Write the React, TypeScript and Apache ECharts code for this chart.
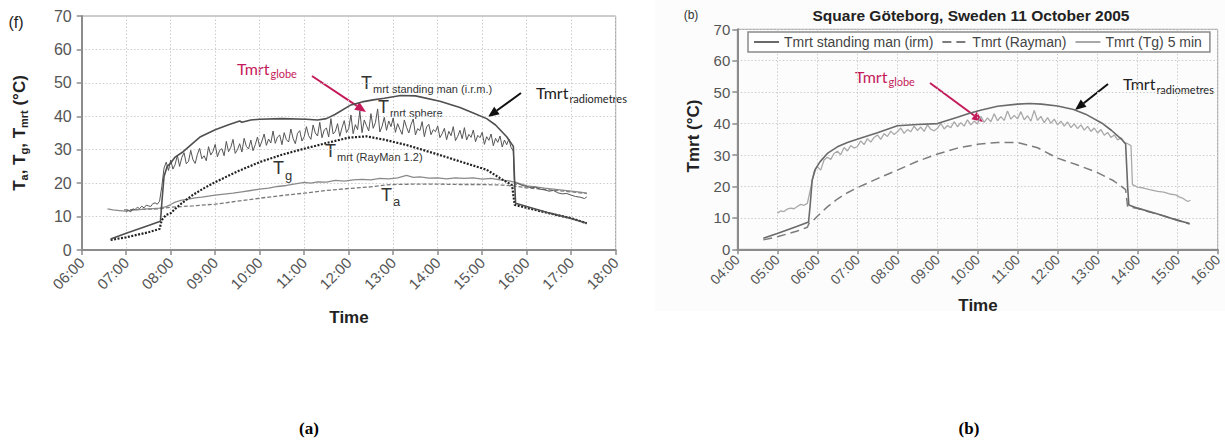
import React, { useEffect, useRef } from 'react';
import * as echarts from 'echarts';

// ---------------- DATA ----------------
// Panel (a): time in decimal hours
const aTickLabels = ['06:00', '07:00', '08:00', '09:00', '10:00', '11:00', '12:00', '13:00', '14:00', '15:00', '16:00', '17:00', '18:00'];
const bTickLabels = ['04:00', '05:00', '06:00', '07:00', '08:00', '09:00', '10:00', '11:00', '12:00', '13:00', '14:00', '15:00', '16:00'];

const aStandingMan: [number, number][] = [
  [6.65, 3.3], [7.0, 5.0], [7.5, 7.3], [7.77, 8.6], [7.8, 14], [7.85, 22], [7.92, 25.0], [8.0, 26.0],
  [8.1, 27.8], [8.28, 29.4], [8.5, 32.0], [8.67, 33.9], [9.0, 36.0], [9.3, 37.5], [9.55, 38.6], [9.6, 38.2],
  [9.8, 38.9], [10.0, 39.1], [10.5, 39.3], [11.05, 39.1], [11.3, 38.9], [11.5, 39.3], [11.7, 40.6],
  [12.05, 43.4], [12.3, 44.3], [12.55, 44.9], [12.8, 45.4], [13.17, 46.2], [13.5, 46.1], [14.05, 44.5],
  [14.5, 42.6], [14.8, 41.0], [15.1, 39.3], [15.3, 37.4], [15.55, 33.9], [15.7, 31.0], [15.73, 20.0],
  [15.75, 14.0], [16.0, 13.0], [16.5, 11.1], [17.0, 9.4], [17.35, 8.0],
];

const aSphereStart = 7.0;
const aSphereStep = 0.05; // 3 min
const aSphereValues = [
  11.5, 11.9, 11.4, 12.3, 12.1, 12.8, 12.4, 13.1, 12.6, 13.4, 13.2, 13.0, 13.9, 14.1, 13.7, 14.6, 19.0, 24.5, 26.3, 23.8,
  26.9, 24.2, 25.6, 28.3, 25.0, 27.7, 29.1, 25.8, 26.5, 29.8, 27.0, 25.9, 28.6, 30.4, 27.3, 28.2, 26.7, 30.9, 28.4, 29.5,
  31.6, 27.9, 29.8, 30.3, 28.2, 32.5, 29.4, 30.7, 33.1, 28.9, 30.0, 31.8, 29.3, 33.4, 31.0, 30.2, 32.9, 29.7, 31.5, 33.8,
  30.8, 32.6, 34.7, 31.3, 33.2, 32.0, 35.6, 31.9, 33.8, 34.4, 31.5, 35.1, 33.0, 32.3, 36.2, 33.4, 31.8, 34.9, 35.7, 32.6,
  33.9, 36.9, 34.2, 33.1, 37.4, 35.0, 34.1, 38.2, 33.6, 35.9, 36.5, 33.8, 39.3, 34.7, 35.5, 37.8, 34.0, 36.6, 38.7, 35.1,
  36.3, 40.4, 34.8, 37.5, 36.0, 41.6, 35.1, 38.9, 37.2, 35.6, 40.8, 36.4, 38.1, 42.2, 35.3, 37.0, 39.7, 35.8, 38.6, 36.9,
  39.5, 35.2, 37.8, 36.1, 34.6, 38.9, 36.7, 35.0, 37.5, 39.2, 34.4, 36.3, 35.7, 38.4, 33.9, 36.8, 37.6, 34.5, 36.0, 35.4,
  37.1, 33.6, 34.8, 36.4, 33.0, 35.5, 34.2, 36.9, 32.7, 34.0, 35.8, 33.3, 36.6, 32.9, 34.6, 33.7, 35.9, 32.4, 34.3, 33.6,
  35.2, 31.6, 33.9, 32.8, 34.7, 31.2, 33.4, 32.2, 34.1, 30.8, 32.9, 31.5, 33.2, 30.6, 29.6,
];
const aSphereTail: [number, number][] = [
  [15.72, 21.0], [15.75, 19.6], [15.8, 19.9], [15.9, 19.3], [16.0, 19.0], [16.1, 18.6], [16.2, 18.8], [16.3, 18.2],
  [16.4, 18.0], [16.5, 17.6], [16.6, 17.8], [16.7, 17.1], [16.8, 16.8], [16.9, 16.9], [17.0, 16.4], [17.1, 16.0],
  [17.2, 15.8], [17.3, 15.4], [17.35, 15.9],
];

const aRayMan: [number, number][] = [
  [6.65, 3.0], [7.0, 3.8], [7.5, 5.3], [7.75, 6.3], [7.8, 9.0], [7.9, 10.5], [8.0, 11.0], [8.1, 12.3],
  [8.25, 14.0], [8.5, 16.5], [8.75, 18.5], [9.0, 20.3], [9.5, 23.5], [10.0, 26.3], [10.5, 28.5], [11.0, 30.3],
  [11.5, 32.0], [12.0, 33.6], [12.4, 34.0], [12.8, 33.0], [13.3, 31.4], [13.7, 29.8], [14.05, 28.4], [14.5, 26.5],
  [15.1, 24.0], [15.4, 21.5], [15.67, 19.4], [15.73, 13.5], [16.0, 12.6], [16.5, 11.0], [17.0, 9.5], [17.35, 8.0],
];

const aTg: [number, number][] = [
  [6.58, 12.3], [6.7, 12.0], [6.85, 11.8], [7.0, 11.6], [7.15, 11.9], [7.3, 12.1], [7.45, 12.3], [7.6, 12.4],
  [7.75, 12.5], [7.9, 13.0], [8.0, 13.6], [8.1, 14.3], [8.25, 14.9], [8.4, 15.2], [8.55, 15.6], [8.7, 15.8],
  [8.85, 16.1], [9.0, 16.4], [9.2, 16.7], [9.4, 17.0], [9.6, 17.4], [9.8, 17.8], [10.0, 18.2], [10.2, 18.5],
  [10.4, 19.0], [10.6, 19.3], [10.8, 19.8], [11.0, 20.2], [11.15, 20.0], [11.3, 20.4], [11.5, 20.3], [11.7, 20.8],
  [11.9, 20.6], [12.1, 21.0], [12.3, 21.1], [12.5, 21.0], [12.7, 21.4], [12.9, 21.3], [13.1, 21.6], [13.3, 22.3],
  [13.45, 21.7], [13.6, 21.9], [13.8, 21.5], [14.0, 21.6], [14.2, 21.3], [14.4, 21.6], [14.6, 21.4], [14.8, 21.6],
  [15.0, 21.2], [15.2, 21.4], [15.4, 21.0], [15.6, 20.7], [15.75, 20.2], [15.9, 19.6], [16.0, 19.2], [16.2, 18.9],
  [16.4, 18.5], [16.6, 18.2], [16.8, 17.9], [17.0, 17.6], [17.2, 17.3], [17.35, 17.0],
];

const aTa: [number, number][] = [
  [6.95, 12.0], [7.5, 12.2], [7.75, 12.3], [8.0, 12.8], [8.5, 13.2], [9.0, 13.7], [9.5, 14.6], [10.0, 15.5],
  [10.5, 16.3], [11.0, 17.0], [11.5, 17.8], [12.0, 18.4], [12.5, 18.9], [12.8, 19.4], [13.0, 19.6], [13.5, 19.7],
  [14.0, 19.7], [14.5, 19.6], [15.0, 19.6], [15.5, 19.4], [15.8, 19.0], [16.0, 18.6], [16.5, 18.0], [17.0, 17.4],
  [17.35, 16.9],
];

// Panel (b)
const bStandingMan: [number, number][] = [
  [4.65, 3.5], [5.0, 5.0], [5.5, 7.3], [5.78, 8.7], [5.82, 14.0], [5.87, 22.0], [5.95, 25.5], [6.07, 27.9],
  [6.25, 30.5], [6.5, 32.6], [6.75, 34.0], [7.07, 35.3], [7.5, 37.1], [8.0, 39.3], [8.5, 39.7], [9.0, 40.0],
  [9.3, 41.2], [9.5, 42.0], [9.8, 43.3], [10.1, 44.3], [10.5, 45.5], [11.0, 46.2], [11.3, 46.4], [11.6, 46.2],
  [12.0, 45.6], [12.4, 44.5], [12.7, 43.0], [13.1, 40.2], [13.35, 37.8], [13.6, 35.0], [13.7, 33.5],
  [13.75, 20.0], [13.78, 14.1], [14.0, 13.1], [14.5, 11.2], [15.0, 9.2], [15.3, 8.2],
];

const bRayman: [number, number][] = [
  [4.65, 3.0], [5.0, 4.0], [5.5, 5.8], [5.75, 7.0], [5.8, 8.5], [5.9, 9.2], [6.0, 10.5], [6.25, 13.5],
  [6.5, 16.0], [6.75, 18.0], [7.0, 19.6], [7.5, 22.5], [8.0, 25.2], [8.5, 28.0], [9.0, 30.3], [9.5, 32.2],
  [10.0, 33.4], [10.5, 34.0], [11.0, 34.0], [11.5, 32.3], [12.0, 29.0], [12.5, 26.8], [13.0, 24.4], [13.4, 21.8],
  [13.7, 19.0], [13.75, 13.5], [14.0, 13.0], [14.25, 12.0], [14.5, 11.2], [15.0, 9.3], [15.3, 8.0],
];

const bTgStart = 5.0;
const bTgStep = 1 / 12; // 5 min
const bTgValues = [
  11.5, 12.2, 12.0, 12.8, 13.1, 12.9, 13.6, 14.3, 14.0, 14.6, 19.5, 24.8,
  26.3, 25.2, 28.4, 29.3, 28.6, 30.5, 31.2, 30.1, 32.4, 31.3, 33.0, 32.2,
  32.7, 34.5, 33.3, 35.2, 34.1, 35.6, 36.4, 35.0, 36.8, 35.9, 37.6, 36.5,
  37.4, 38.6, 36.9, 38.1, 37.4, 39.2, 37.8, 38.9, 37.5, 39.6, 38.2, 37.7,
  38.5, 40.1, 38.3, 39.4, 38.7, 40.6, 39.0, 40.3, 39.2, 41.2, 39.6, 40.8,
  39.9, 42.3, 40.4, 41.8, 40.6, 43.1, 40.9, 42.2, 41.0, 44.0, 41.4, 42.6,
  41.5, 43.8, 41.2, 42.5, 40.8, 44.2, 41.0, 42.3, 40.3, 41.9, 40.1, 41.4,
  39.6, 40.8, 39.2, 40.5, 38.7, 39.9, 38.4, 39.6, 37.9, 39.1, 37.5, 38.6,
  37.0, 38.1, 36.3, 37.2, 35.6, 36.4, 34.8, 35.5, 34.0, 33.6, 33.0,
];
const bTgTail: [number, number][] = [
  [13.87, 20.6], [14.0, 19.8], [14.15, 19.5], [14.3, 19.0], [14.5, 18.4], [14.65, 18.2], [14.8, 17.6],
  [14.95, 17.3], [15.05, 16.6], [15.12, 16.3], [15.2, 15.6], [15.25, 15.2], [15.32, 15.6],
];

const bNames = ['Tmrt standing man (irm)', 'Tmrt (Rayman)', 'Tmrt (Tg) 5 min'];

// ---------------- STYLE ----------------
const SANS = 'Liberation Sans, Arial, sans-serif';
const CALI = 'Lato, Open Sans, sans-serif';
const CRIMSON = '#c51a5a';

function regular(start: number, step: number, vals: number[]): [number, number][] {
  return vals.map((v, i) => [start + i * step, v] as [number, number]);
}

function arrow(x0: number, y0: number, x1: number, y1: number, color: string, w = 2, head = 11) {
  const ang = Math.atan2(y1 - y0, x1 - x0);
  const hx = x1 - head * Math.cos(ang);
  const hy = y1 - head * Math.sin(ang);
  const px = -Math.sin(ang) * head * 0.42;
  const py = Math.cos(ang) * head * 0.42;
  return [
    { type: 'line', shape: { x1: x0, y1: y0, x2: hx, y2: hy }, style: { stroke: color, lineWidth: w } },
    { type: 'polygon', shape: { points: [[x1, y1], [hx + px, hy + py], [hx - px, hy - py]] }, style: { fill: color } },
  ];
}

function subLabel(x: number, y: number, main: string, sub: string, opts: any = {}) {
  const mainSize = opts.mainSize ?? 18;
  const subSize = opts.subSize ?? 11;
  const pad = opts.pad ?? 12;
  const color = opts.color ?? '#333';
  const font = opts.font ?? SANS;
  const weight = opts.weight ?? 'normal';
  return {
    type: 'text',
    x,
    y,
    rotation: opts.rotation ?? 0,
    style: {
      text: `{m|${main}}{s|${sub}}`,
      align: opts.align ?? 'left',
      verticalAlign: 'middle',
      rich: {
        m: { fontSize: mainSize, fontFamily: font, fill: color, fontWeight: weight },
        s: { fontSize: subSize, fontFamily: font, fill: color, fontWeight: weight, padding: [pad, 0, 0, 1] },
      },
    },
  };
}

function axisBase(fontSize: number, margin: number) {
  return {
    axisLine: { show: true, lineStyle: { color: '#8c8c8c', width: 2 } },
    axisTick: { show: true, length: 5, lineStyle: { color: '#8c8c8c', width: 1.5 } },
    splitLine: { show: true, lineStyle: { color: '#cccccc', type: [1.5, 2], width: 1 } },
    axisLabel: { color: '#555', fontFamily: SANS, fontSize, margin },
  };
}

function lineSeries(name: string, xi: number, data: [number, number][], color: string, width: number, type: any = 'solid', z = 2) {
  return {
    type: 'line',
    name,
    xAxisIndex: xi,
    yAxisIndex: xi,
    data,
    showSymbol: false,
    symbol: 'none',
    z,
    lineStyle: { color, width, type },
    itemStyle: { color },
  };
}

export default function App() {
  const ref = useRef<HTMLDivElement>(null);

  useEffect(() => {
    const chart = echarts.init(ref.current!, null, { renderer: 'svg' });

    const ax = axisBase(15, 10);
    const ay = axisBase(16, 10);
    const bx = axisBase(14, 8);
    const by = axisBase(15, 7);

    const option: any = {
      animation: false,
      backgroundColor: '#ffffff',
      grid: [
        { left: 81.7, top: 16, width: 534, height: 234, show: true, borderColor: '#9a9a9a', borderWidth: 1 },
        { left: 737.3, top: 29.3, width: 480.4, height: 220, show: true, borderColor: '#9a9a9a', borderWidth: 1 },
      ],
      xAxis: [
        {
          type: 'value', gridIndex: 0, min: 6, max: 18, interval: 1, ...ax,
          axisLabel: { ...ax.axisLabel, rotate: 45, formatter: (v: number) => aTickLabels[Math.round(v - 6)] ?? '' },
        },
        {
          type: 'value', gridIndex: 1, min: 4, max: 16, interval: 1, ...bx,
          axisLabel: { ...bx.axisLabel, rotate: 45, formatter: (v: number) => bTickLabels[Math.round(v - 4)] ?? '' },
        },
      ],
      yAxis: [
        { type: 'value', gridIndex: 0, min: 0, max: 70, interval: 10, ...ay },
        { type: 'value', gridIndex: 1, min: 0, max: 70, interval: 10, ...by },
      ],
      legend: {
        data: bNames,
        left: 748,
        top: 32,
        orient: 'horizontal',
        padding: [3, 8, 3, 5],
        itemWidth: 25,
        itemHeight: 14,
        itemGap: 8,
        borderColor: '#8a8a8a',
        borderWidth: 1.5,
        backgroundColor: '#ffffff',
        itemStyle: { opacity: 0, borderWidth: 0 },
        textStyle: { fontSize: 14, color: '#444', fontFamily: SANS },
      },
      series: [
        lineSeries('Ta', 0, aTa, '#7a7a7a', 1.3, [4, 2], 2),
        lineSeries('Tg', 0, aTg, '#8a8a8a', 1.3, 'solid', 2),
        lineSeries('Tmrt RayMan 1.2', 0, aRayMan, '#222222', 2.2, [2, 1.5], 3),
        lineSeries('Tmrt sphere', 0, regular(aSphereStart, aSphereStep, aSphereValues).concat(aSphereTail), '#555555', 1, 'solid', 4),
        lineSeries('Tmrt standing man (i.r.m.)', 0, aStandingMan, '#4f4f4f', 1.6, 'solid', 5),
        lineSeries(bNames[0], 1, bStandingMan, '#6a6a6a', 1.6, 'solid', 4),
        lineSeries(bNames[1], 1, bRayman, '#7c7c7c', 1.5, [9, 5], 3),
        lineSeries(bNames[2], 1, regular(bTgStart, bTgStep, bTgValues).concat(bTgTail), '#a9a9a9', 1.3, 'solid', 3),
      ],
      graphic: [
        { type: 'rect', z: -10, silent: true, shape: { x: 655, y: 0, width: 570, height: 311 }, style: { fill: '#fcfcfc' } },
        // panel (a) texts
        { type: 'text', x: 16, y: 22, style: { text: '(f)', fontSize: 16, fontFamily: SANS, fill: '#222', align: 'center', verticalAlign: 'middle' } },
        {
          type: 'text', x: 19, y: 133, rotation: Math.PI / 2,
          style: {
            text: '{m|T}{s|a}{m|, T}{s|g}{m|, T}{s|mrt}{m| (°C)}',
            align: 'center', verticalAlign: 'middle',
            rich: {
              m: { fontSize: 17, fontWeight: 'bold', fontFamily: SANS, fill: '#222' },
              s: { fontSize: 11, fontWeight: 'bold', fontFamily: SANS, fill: '#222', padding: [9, 0, 0, 0] },
            },
          },
        },
        { type: 'text', x: 349, y: 317, style: { text: 'Time', fontSize: 17, fontWeight: 'bold', fontFamily: SANS, fill: '#222', align: 'center', verticalAlign: 'middle' } },
        subLabel(361, 83, 'T', 'mrt standing man (i.r.m.)'),
        subLabel(378, 107, 'T', 'mrt sphere'),
        subLabel(325, 151, 'T', 'mrt (RayMan 1.2)'),
        subLabel(273, 168, 'T', 'g', { subSize: 13, pad: 14 }),
        subLabel(381, 195, 'T', 'a', { subSize: 13, pad: 12 }),
        subLabel(237, 68, 'Tmrt', 'globe', { font: CALI, mainSize: 16, subSize: 11, pad: 10, color: CRIMSON }),
        subLabel(536, 92, 'Tmrt', 'radiometres', { font: CALI, mainSize: 16, subSize: 11, pad: 12, color: '#222' }),
        ...arrow(312, 76, 366, 112, CRIMSON, 2),
        ...arrow(521, 93, 488, 117, '#111', 2),
        // panel (b) texts
        { type: 'text', x: 691, y: 15, style: { text: '(b)', fontSize: 12, fontFamily: SANS, fill: '#333', align: 'center', verticalAlign: 'middle' } },
        { type: 'text', x: 971, y: 15, style: { text: 'Square Göteborg, Sweden 11 October 2005', fontSize: 15.5, fontWeight: 'bold', fontFamily: SANS, fill: '#222', align: 'center', verticalAlign: 'middle' } },
        { type: 'text', x: 693, y: 136, rotation: Math.PI / 2, style: { text: 'Tmrt (°C)', fontSize: 17, fontWeight: 'bold', fontFamily: SANS, fill: '#222', align: 'center', verticalAlign: 'middle' } },
        { type: 'text', x: 978, y: 305, style: { text: 'Time', fontSize: 17, fontWeight: 'bold', fontFamily: SANS, fill: '#222', align: 'center', verticalAlign: 'middle' } },
        subLabel(855, 76, 'Tmrt', 'globe', { font: CALI, mainSize: 16, subSize: 11, pad: 10, color: CRIMSON }),
        subLabel(1123, 83, 'Tmrt', 'radiometres', { font: CALI, mainSize: 16, subSize: 11, pad: 12, color: '#222' }),
        ...arrow(930, 83, 983, 122, CRIMSON, 2),
        ...arrow(1108, 84, 1075, 110, '#111', 2),
        // captions
        { type: 'text', x: 309, y: 428, style: { text: '(a)', fontSize: 17, fontWeight: 'bold', fontFamily: 'Liberation Serif, serif', fill: '#000', align: 'center', verticalAlign: 'middle' } },
        { type: 'text', x: 969, y: 428, style: { text: '(b)', fontSize: 17, fontWeight: 'bold', fontFamily: 'Liberation Serif, serif', fill: '#000', align: 'center', verticalAlign: 'middle' } },
      ],
    };

    chart.setOption(option);
    return () => chart.dispose();
  }, []);

  return <div ref={ref} style={{ position: 'fixed', left: 0, top: 0, width: 1225, height: 445, background: '#fff' }} />;
}
